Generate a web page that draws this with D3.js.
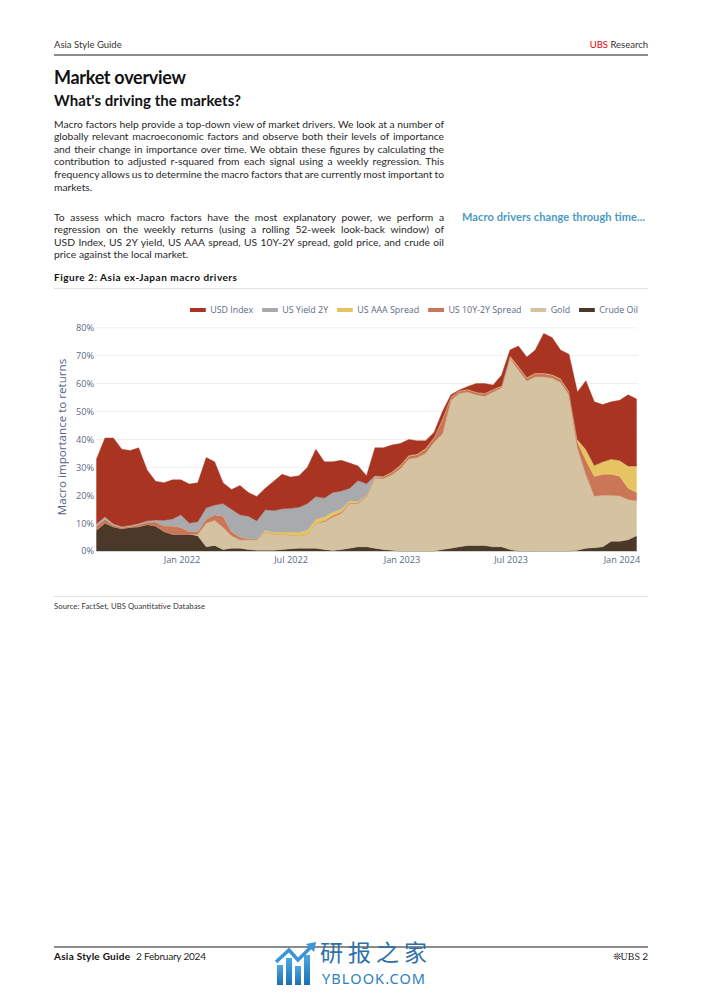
<!DOCTYPE html>
<html><head><meta charset="utf-8">
<script src="https://cdn.jsdelivr.net/npm/d3@7"></script>
<style>
html,body{margin:0;padding:0;background:#fff;}
svg{display:block;}
</style></head><body>
<svg id="page" width="702" height="992"></svg>
<script>
// ---------------- DATA ----------------
const dates = [
 "2021-08-13","2021-08-27","2021-09-10","2021-09-24","2021-10-08","2021-10-22","2021-11-05","2021-11-19","2021-12-03","2021-12-17","2021-12-31",
 "2022-01-14","2022-01-28","2022-02-11","2022-02-25","2022-03-11","2022-03-25","2022-04-08","2022-04-22","2022-05-06","2022-05-20","2022-06-03","2022-06-17","2022-07-01","2022-07-15","2022-07-29","2022-08-12","2022-08-26","2022-09-09","2022-09-23","2022-10-07","2022-10-21","2022-11-04","2022-11-18","2022-12-02","2022-12-16","2022-12-30",
 "2023-01-13","2023-01-27","2023-02-10","2023-02-24","2023-03-10","2023-03-24","2023-04-07","2023-04-21","2023-05-05","2023-05-19","2023-06-02","2023-06-16","2023-06-30","2023-07-14","2023-07-28","2023-08-11","2023-08-25","2023-09-08","2023-09-22","2023-10-06","2023-10-20","2023-11-03","2023-11-17","2023-12-01","2023-12-15","2023-12-29",
 "2024-01-12","2024-01-26"
];
const crudeOil = [7.5,10,8.7,8,8.5,8.7,9.5,9,7,6, 6,6,5.5,1.5,2,0.5,1,1,0.5,0.3, 0.3,0.3,0.5,0.8,1,1,1,0.5,0.2,0.5, 1,1.5,1.5,1,0.5,0.3,0,0,0,0, 0,0.5,1,1.5,2,2,2,1.5,1.5,0.5, 0,0,0,0,0,0,0,0.3,1,1.2, 1.5,3.5,3.5,4,5.5];
const gold = [0,0,0,0,0,0,0,0,0,0, 0,0,0.5,8.5,9,8,4.5,3,3.5,3.7, 6.7,5.7,5.5,5,4.5,5,9,10,12,13, 16,15.5,18,25,25.5,27,29.5,33,33.5,35, 39,41.5,53,55,55,54,53.5,55.5,57,68.5, 65,61,62.5,62.5,62,60.5,56,36.7,26.5,18.5, 18.5,16.5,16.3,14.5,12.5];
const us10y2ySpread = [1.5,1.5,0.6,0.5,0.4,0.8,0.8,1.5,2,3, 2.5,1,1,1.5,2,4,1.5,1,0.5,0.3, 0,0,0,0,0,0,0,0.3,0.5,0.5, 0.3,0.3,0.3,0.3,0.5,0.8,1,1,1,1.5, 1.5,5,1.2,0.8,0.8,0.8,0.8,0.8,0.5,0.3, 1,1,1,1,1,1,1,2,5,7, 7.5,7.5,7,4,3];
const usAaaSpread = [0,0,0,0,0,0,0,0,0,0, 0,0,0,0,0,0,0,0,0,0, 0.5,0.7,0.8,1,1.2,1.5,1.5,1.5,1.3,1, 0.7,0.5,0.3,0.2,0.3,0.3,0.3,0.3,0.3,0.3, 0.3,0.5,0.2,0.2,0.2,0.2,0.2,0.2,0.2,0.7, 0.3,0.3,0.3,0.3,0.3,0.3,0.3,1,4,4, 4.5,5.5,5.7,8,9.5];
const usYield2y = [0.8,0.8,0.5,0.3,0.3,0.4,0.5,0.6,2,2.5, 4.5,3,3.5,4,3.5,4.5,8,8,8,6.5, 7.3,7.8,8.3,8.5,9,9.5,8,6.7,7,6.5, 4.5,7.5,4,0.5,0,0,0,0,0,0, 0,0,0,0,0,0,0,0,0,0, 0,0,0,0,0,0,0,0,0,0, 0,0,0,0,0];
const usdIndex = [23.2,28.2,30.7,27.7,26.8,27.1,18.2,13.9,13.5,14, 12.5,14,14,18,15.5,7.5,7,10.5,8.5,8.7, 7.7,10.5,12.4,11.2,11.3,13,17,13,11,11, 9,5.2,2.9,10,10.2,9.6,7.7,5.7,4.7,2.7, 1.7,2.5,0.6,0.2,1,3,3.5,1.5,3.8,2, 7.2,7.2,8.2,14.2,13.2,10.2,13.2,17,24.5,22.8, 20.5,20.5,21.5,25.5,24];

const stackKeys = ["Crude Oil","Gold","US 10Y-2Y Spread","US AAA Spread","US Yield 2Y","USD Index"];
const legendKeys = ["USD Index","US Yield 2Y","US AAA Spread","US 10Y-2Y Spread","Gold","Crude Oil"];
const colors = {"USD Index":"#a93422","US Yield 2Y":"#a9aaad","US AAA Spread":"#e6c462","US 10Y-2Y Spread":"#cc7658","Gold":"#d4c2a0","Crude Oil":"#4a3829"};
const yTicks = [0,10,20,30,40,50,60,70,80];
const xTickDates = ["2022-01-01","2022-07-01","2023-01-01","2023-07-01","2024-01-01"];

const para1 = [
 "Macro factors help provide a top-down view of market drivers. We look at a number of",
 "globally relevant macroeconomic factors and observe both their levels of importance",
 "and their change in importance over time. We obtain these figures by calculating the",
 "contribution to adjusted r-squared from each signal using a weekly regression. This",
 "frequency allows us to determine the macro factors that are currently most important to",
 "markets."
];
const para2 = [
 "To assess which macro factors have the most explanatory power, we perform a",
 "regression on the weekly returns (using a rolling 52-week look-back window) of",
 "USD Index, US 2Y yield, US AAA spread, US 10Y-2Y spread, gold price, and crude oil",
 "price against the local market."
];

// ---------------- PAGE ----------------
const svg = d3.select("#page");
svg.append("rect").attr("width",702).attr("height",992).attr("fill","#fff");
const bodyFont = "Lato, 'Noto Sans', sans-serif";
const chartFont = "'Open Sans', 'Noto Sans', sans-serif";

function fit(sel, w){ sel.attr("textLength", w).attr("lengthAdjust","spacing"); return sel; }

// header
svg.append("text").attr("x",54).attr("y",47.5).attr("font-family",bodyFont).attr("font-size",9.5).attr("fill","#333").text("Asia Style Guide");
const hr = svg.append("text").attr("x",648).attr("y",47.5).attr("text-anchor","end").attr("font-family",bodyFont).attr("font-size",9.5).attr("fill","#333");
hr.append("tspan").attr("fill","#e60000").text("UBS");
hr.append("tspan").text(" Research");
svg.append("line").attr("x1",54).attr("x2",648).attr("y1",55).attr("y2",55).attr("stroke","#666").attr("stroke-width",1.6);

fit(svg.append("text").attr("x",54).attr("y",83.5).attr("font-family",bodyFont).attr("font-weight",700).attr("font-size",18).attr("fill","#111").text("Market overview"),132);
fit(svg.append("text").attr("x",54).attr("y",105.5).attr("font-family",bodyFont).attr("font-weight",700).attr("font-size",15).attr("fill","#111").text("What's driving the markets?"),187);

function paragraph(lines, y0, lh){
  const fs = 10.3;
  lines.forEach((ln,i)=>{
    const t = svg.append("text").attr("x",54).attr("y",y0+i*lh).attr("font-family",bodyFont).attr("font-size",fs).attr("fill","#2a2a2a").text(ln);
    if(i < lines.length-1){
      const w = t.node().getComputedTextLength();
      const spaces = (ln.match(/ /g)||[]).length;
      t.attr("word-spacing", ((390 - w)/spaces).toFixed(3));
    }
  });
}
paragraph(para1, 127.5, 12.6);
paragraph(para2, 220.5, 12.6);

fit(svg.append("text").attr("x",462).attr("y",220.5).attr("font-family",bodyFont).attr("font-weight",700).attr("font-size",11).attr("fill","#4a9abf").text("Macro drivers change through time..."),183);
fit(svg.append("text").attr("x",54).attr("y",280.5).attr("font-family",bodyFont).attr("font-weight",700).attr("font-size",10).attr("fill","#111").text("Figure 2: Asia ex-Japan macro drivers"),183);
svg.append("line").attr("x1",54).attr("x2",648).attr("y1",288.5).attr("y2",288.5).attr("stroke","#e2e2e2").attr("stroke-width",1);

// ---------------- CHART ----------------
const parse = d3.timeParse("%Y-%m-%d");
const rows = dates.map((d,i)=>({
  date: parse(d),
  "Crude Oil": crudeOil[i], "Gold": gold[i], "US 10Y-2Y Spread": us10y2ySpread[i],
  "US AAA Spread": usAaaSpread[i], "US Yield 2Y": usYield2y[i], "USD Index": usdIndex[i]
}));
const x = d3.scaleTime().domain(d3.extent(rows, d=>d.date)).range([96.5, 636.5]);
const y = d3.scaleLinear().domain([0,80]).range([551, 327.8]);

const chart = svg.append("g");
chart.append("g").selectAll("line").data(yTicks).join("line")
  .attr("x1",96).attr("x2",638).attr("y1",d=>y(d)).attr("y2",d=>y(d))
  .attr("stroke","#efefef").attr("stroke-width",1);

const stacked = d3.stack().keys(stackKeys)(rows);
const area = d3.area().x(d=>x(d.data.date)).y0(d=>y(d[0])).y1(d=>y(d[1]));
chart.append("g").selectAll("path").data(stacked).join("path")
  .attr("d", area).attr("fill", d=>colors[d.key]).attr("stroke", d=>colors[d.key]).attr("stroke-width",0.4);

const yAxis = d3.axisLeft(y).tickValues(yTicks).tickFormat(d=>d+"%").tickSize(0).tickPadding(0);
const yg = chart.append("g").attr("transform","translate(94,0)").call(yAxis);
yg.select(".domain").remove();
yg.selectAll("text").attr("font-family",chartFont).attr("font-size",9.2).attr("fill","#5a6b85");

const xAxis = d3.axisBottom(x).tickValues(xTickDates.map(parse)).tickFormat(d3.timeFormat("%b %Y")).tickSize(0).tickPadding(0);
const xg = chart.append("g").attr("transform","translate(0,556)").call(xAxis);
xg.select(".domain").remove();
xg.selectAll("text").attr("font-family",chartFont).attr("font-size",9.2).attr("fill","#5a6b85").attr("dy","0.71em");

chart.append("text").attr("transform","translate(66,437) rotate(-90)").attr("text-anchor","middle")
  .attr("font-family",chartFont).attr("font-size",11.6).attr("fill","#52657f").text("Macro importance to returns");

// legend
const lg = chart.append("g");
let items = legendKeys.map(k=>{
  const g = lg.append("g");
  g.append("line").attr("x1",0).attr("x2",16).attr("y1",0).attr("y2",0).attr("stroke",colors[k]).attr("stroke-width",4);
  const t = g.append("text").attr("x",20.5).attr("y",3.2).attr("font-family",chartFont).attr("font-size",9).attr("fill","#5a6b85").text(k);
  return {g, w: 20.5 + t.node().getComputedTextLength()};
});
const gap = 9;
const total = d3.sum(items, d=>d.w) + gap*(items.length-1);
const lscale = Math.min(1, 448/total);
let cx = 638 - total*lscale;
items.forEach(it=>{ it.g.attr("transform",`translate(${cx},310) scale(${lscale},1)`); cx += (it.w + gap)*lscale; });

// source
svg.append("line").attr("x1",54).attr("x2",648).attr("y1",596.5).attr("y2",596.5).attr("stroke","#e2e2e2").attr("stroke-width",1);
fit(svg.append("text").attr("x",54).attr("y",608.5).attr("font-family",bodyFont).attr("font-size",7.6).attr("fill","#333").text("Source: FactSet, UBS Quantitative Database"),151);

// footer
svg.append("line").attr("x1",54).attr("x2",648).attr("y1",947).attr("y2",947).attr("stroke","#666").attr("stroke-width",1.6);
fit(svg.append("text").attr("x",54).attr("y",959.5).attr("font-family",bodyFont).attr("font-weight",700).attr("font-size",10).attr("fill","#111").text("Asia Style Guide"),76);
fit(svg.append("text").attr("x",136).attr("y",959.5).attr("font-family",bodyFont).attr("font-size",10).attr("fill","#222").text("2 February 2024"),70);
svg.append("text").attr("x",640).attr("y",959.5).attr("text-anchor","end").attr("font-family","'Liberation Serif', 'DejaVu Serif', serif").attr("font-size",10).attr("fill","#222").text("❊UBS");
svg.append("text").attr("x",648).attr("y",959.5).attr("text-anchor","end").attr("font-family",bodyFont).attr("font-size",10).attr("fill","#222").text("2");

// watermark
const wm = svg.append("g");
const grad = svg.append("defs").append("linearGradient").attr("id","wmg").attr("x1",0).attr("y1",0).attr("x2",0).attr("y2",1);
grad.append("stop").attr("offset",0).attr("stop-color","#4aa8e0");
grad.append("stop").attr("offset",1).attr("stop-color","#1f6fb5");
[[277,965,6,20],[286,958,6,27],[295,966,6,19],[304,955,6,30]].forEach(b=>{
  wm.append("rect").attr("x",b[0]).attr("y",b[1]).attr("width",b[2]).attr("height",b[3]).attr("fill","url(#wmg)");
});
wm.append("polyline").attr("points","276,962 289,950 298,960 312,946").attr("fill","none").attr("stroke","#3b95d6").attr("stroke-width",3.5);
wm.append("polygon").attr("points","306,944 316,942 314,952").attr("fill","#3b95d6");
fit(wm.append("text").attr("x",320).attr("y",961).attr("font-family","'Noto Sans CJK SC', sans-serif").attr("font-size",23).attr("fill","#2f6fa8").text("研报之家"),107);
fit(wm.append("text").attr("x",322).attr("y",984).attr("font-family","'Noto Sans', sans-serif").attr("font-size",14.5).attr("fill","#2f7fc1").text("YBLOOK.COM"),103);
</script>
</body></html>
